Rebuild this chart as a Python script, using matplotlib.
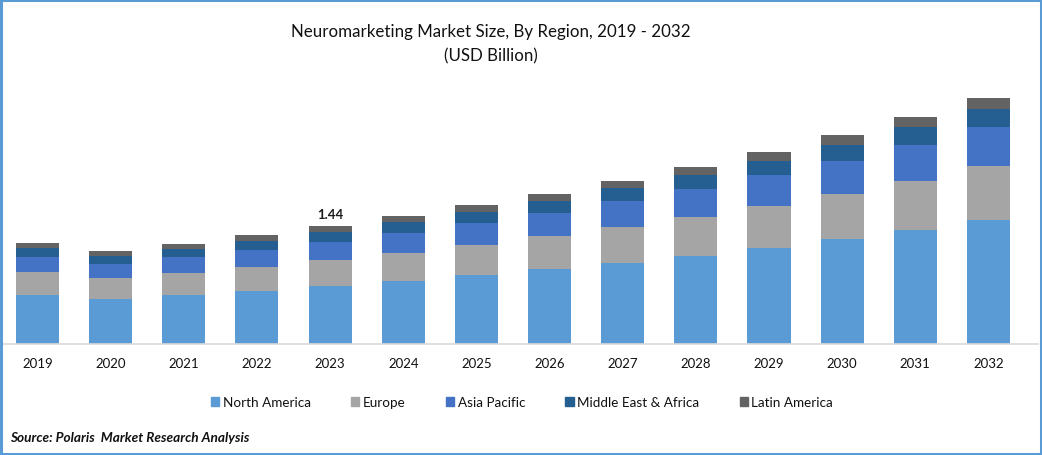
import matplotlib
matplotlib.use("Agg")
import matplotlib.pyplot as plt
from matplotlib.patches import Rectangle, Patch
import numpy as np

years = [2019, 2020, 2021, 2022, 2023, 2024, 2025, 2026, 2027, 2028, 2029, 2030, 2031, 2032]
north_america = [.598, .549, .598, .647, .708, .769, .842, .915, .988, 1.074, 1.171, 1.281, 1.391, 1.513]
europe = [.281, .256, .268, .293, .317, .342, .366, .403, .439, .476, .513, .549, .598, .659]
asia_pacific = [.183, .171, .195, .207, .220, .244, .268, .281, .317, .342, .378, .403, .439, .476]
mea = [.110, .098, .098, .110, .122, .134, .134, .146, .159, .171, .171, .195, .220, .220]
latin_america = [.061, .061, .061, .073, .073, .073, .085, .085, .085, .098, .110, .122, .122, .134]
series_names = ["North America", "Europe", "Asia Pacific", "Middle East & Africa", "Latin America"]
colors = ["#5B9BD5", "#A5A5A5", "#4472C4", "#255E91", "#636363"]
title = "Neuromarketing Market Size, By Region, 2019 - 2032\n(USD Billion)"
source = "Source: Polaris  Market Research Analysis"
callout = "1.44"

plt.rcParams["font.family"] = ["Lato", "DejaVu Sans"]
W, H = 1042, 456
fig = plt.figure(figsize=(W / 100, H / 100), dpi=100, facecolor="white")
ax = fig.add_axes([2 / W, 1 - 345 / H, 1036 / W, 264 / H])
x = np.arange(len(years))
spacing = 73.15
ax.set_xlim((2 - 37.5) / spacing, (1038 - 37.5) / spacing)
ax.set_ylim(0, 264 * 1.44 / 118)
bottom = np.zeros(len(years))
for vals, c, name in zip([north_america, europe, asia_pacific, mea, latin_america], colors, series_names):
    ax.bar(x, vals, bottom=bottom, width=0.588, color=c, linewidth=0, label=name)
    bottom += np.array(vals)
ax.text(x[4], bottom[4] + 0.07, callout, ha="center", va="bottom", fontsize=9.5, fontweight="bold", color="#1a1a1a")
for s in ["top", "left", "right"]:
    ax.spines[s].set_visible(False)
ax.spines["bottom"].set_color("#D9D9D9")
ax.spines["bottom"].set_linewidth(1.2)
ax.set_yticks([])
ax.set_xticks(x)
ax.set_xticklabels(years, fontsize=9.5, color="#111111")
ax.tick_params(axis="x", length=0, pad=9.5)

fig.text(491 / W, 1 - 44 / H, title, ha="center", va="center", fontsize=12.2, color="#111111", linespacing=1.65)
handles = [Patch(color=c, label=n) for c, n in zip(colors, series_names)]
fig.legend(handles=handles, loc="center", bbox_to_anchor=(522 / W, 1 - 403.5 / H), ncol=5, frameon=False,
           fontsize=9.7, handlelength=0.62, handleheight=0.62, handletextpad=0.25, columnspacing=3.0,
           labelcolor="#111111")
fig.text(10.5 / W, 1 - 438 / H, source, ha="left", va="center", fontsize=9.8, fontweight="bold", fontstyle="italic", color="#111111")
fig.add_artist(Rectangle((1 / W, 1 / H), 1 - 2.5 / W, 1 - 2 / H, transform=fig.transFigure, fill=False,
                         edgecolor="#5B9BD5", linewidth=2.2))
fig.savefig("out.png", dpi=100)
